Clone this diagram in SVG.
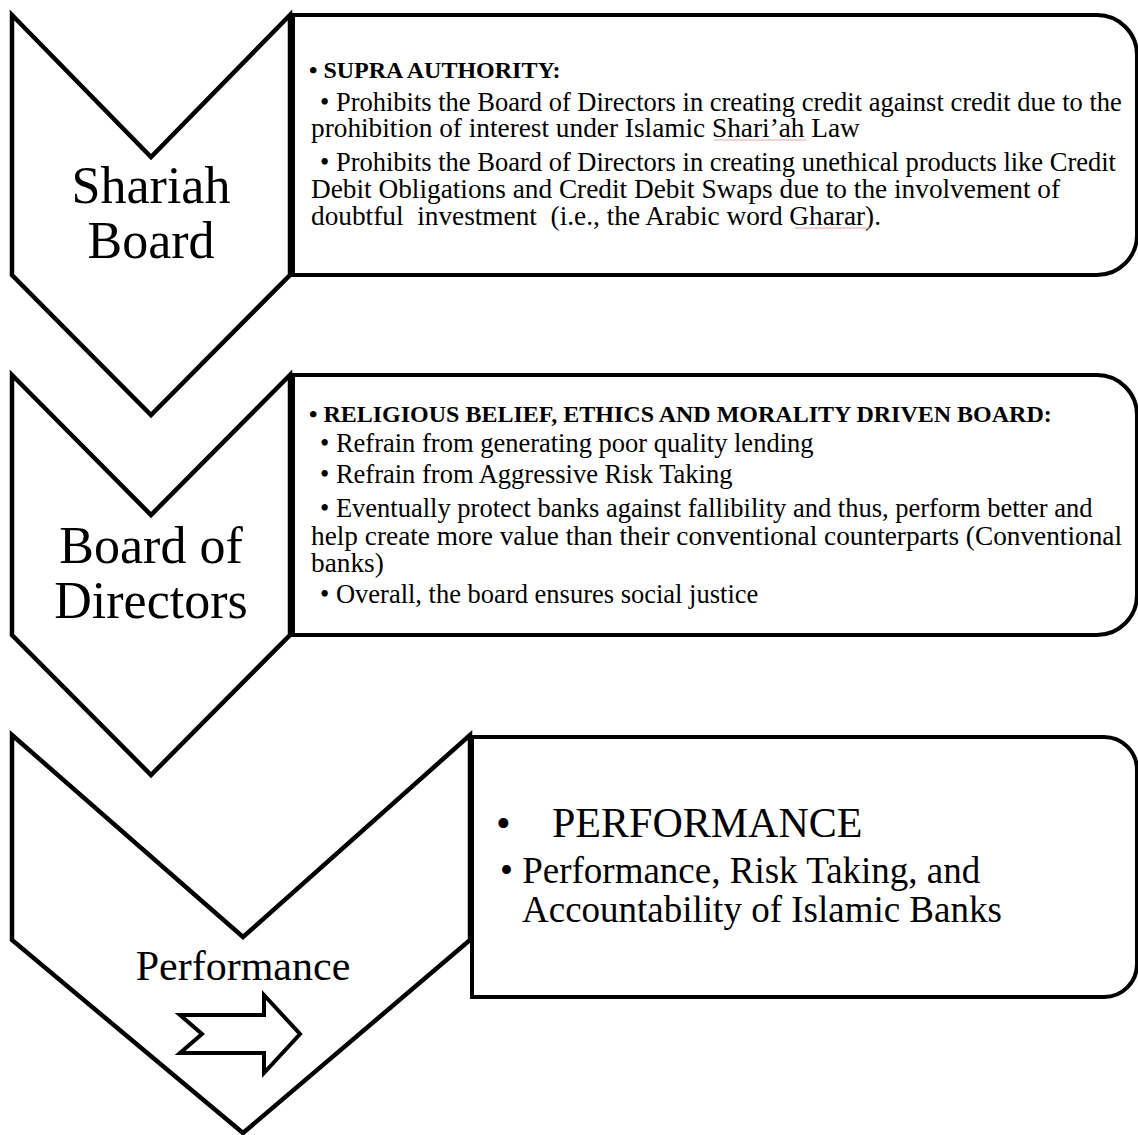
<svg xmlns="http://www.w3.org/2000/svg" width="1138" height="1135" viewBox="0 0 1138 1135">
  <style>
    .chev { fill: #ffffff; stroke: #000000; stroke-width: 4.5; stroke-linejoin: miter; }
    .box { fill: #ffffff; stroke: #000000; stroke-width: 4; stroke-linejoin: miter; }
    .arrow { fill: #ffffff; stroke: #000000; stroke-width: 4; stroke-linejoin: miter; }
    text { font-family: "Liberation Serif", "Times New Roman", serif; fill: #000000; }
    .label { font-size: 52px; text-anchor: middle; }
    .head { font-size: 24px; font-weight: bold; }
    .item { font-size: 26.5px; }
    .cont { font-size: 27.3px; }
    .big { font-size: 42px; }
    .mid { font-size: 37px; }
    .spell { stroke: #e8a3a3; stroke-width: 1.2; fill: none; }
  </style>
  <rect width="1138" height="1135" fill="#ffffff"/>

  <!-- Stage 1: Shariah Board -->
  <g id="node-shariah-board">
    <path class="chev" d="M12,15 L151,157 L290,15 L290,275 L151,415 L12,275 Z"/>
    <text class="label" x="151" y="203">Shariah</text>
    <text class="label" x="151" y="258">Board</text>
  </g>

  <!-- Stage 2: Board of Directors -->
  <g id="node-board-of-directors">
    <path class="chev" d="M12,375 L151,515 L290,375 L290,635 L151,775 L12,635 Z"/>
    <text class="label" x="151" y="563">Board of</text>
    <text class="label" x="151" y="618">Directors</text>
  </g>

  <!-- Stage 3: Performance -->
  <g id="node-performance">
    <path class="chev" d="M12,735 L243,937 L470,735 L470,940 L243,1133 L12,940 Z"/>
    <text class="big" x="243" y="980" text-anchor="middle">Performance</text>
  </g>

  <!-- Description panel: Shariah Board -->
  <g id="node-supra-authority">
    <path class="box" d="M293,15 H1097 A40,40 0 0 1 1137,55 V235 A40,40 0 0 1 1097,275 H293 Z"/>
    <text class="head" x="309" y="78">• SUPRA AUTHORITY:</text>
    <text class="item" x="320" y="111">• Prohibits the Board of Directors in creating credit against credit due to the</text>
    <text class="cont" x="311" y="137">prohibition of interest under Islamic Shari’ah Law</text>
    <text class="item" x="320" y="171">• Prohibits the Board of Directors in creating unethical products like Credit</text>
    <text class="cont" x="311" y="198">Debit Obligations and Credit Debit Swaps due to the involvement of</text>
    <text class="cont" x="311" y="225" xml:space="preserve">doubtful  investment  (i.e., the Arabic word Gharar).</text>
    <line class="spell" x1="714" y1="140" x2="806" y2="140"/>
    <line class="spell" x1="795" y1="228" x2="871" y2="228"/>
  </g>

  <!-- Description panel: Board of Directors -->
  <g id="node-ethics-board">
    <path class="box" d="M293,375 H1097 A40,40 0 0 1 1137,415 V595 A40,40 0 0 1 1097,635 H293 Z"/>
    <text class="head" x="309" y="422">• RELIGIOUS BELIEF, ETHICS AND MORALITY DRIVEN BOARD:</text>
    <text class="item" x="320" y="452">• Refrain from generating poor quality lending</text>
    <text class="item" x="320" y="483">• Refrain from Aggressive Risk Taking</text>
    <text class="item" x="320" y="517">• Eventually protect banks against fallibility and thus, perform better and</text>
    <text class="cont" x="311" y="545">help create more value than their conventional counterparts (Conventional</text>
    <text class="cont" x="311" y="572">banks)</text>
    <text class="item" x="320" y="603">• Overall, the board ensures social justice</text>
  </g>

  <!-- Description panel: Performance -->
  <g id="node-performance-detail">
    <path class="box" d="M472,737 H1104 A33,33 0 0 1 1137,770 V964 A33,33 0 0 1 1104,997 H472 Z"/>
    <text class="big" x="496" y="837">•</text>
    <text class="big" x="552" y="837">PERFORMANCE</text>
    <text class="mid" x="500" y="883">• Performance, Risk Taking, and</text>
    <text class="mid" x="522" y="922">Accountability of Islamic Banks</text>
  </g>

  <!-- Flow arrow -->
  <g id="connectors">
    <path class="arrow" d="M180,1015 H264 V995 L300,1034 L264,1073 V1053 H180 L202,1034 Z"/>
  </g>
</svg>
